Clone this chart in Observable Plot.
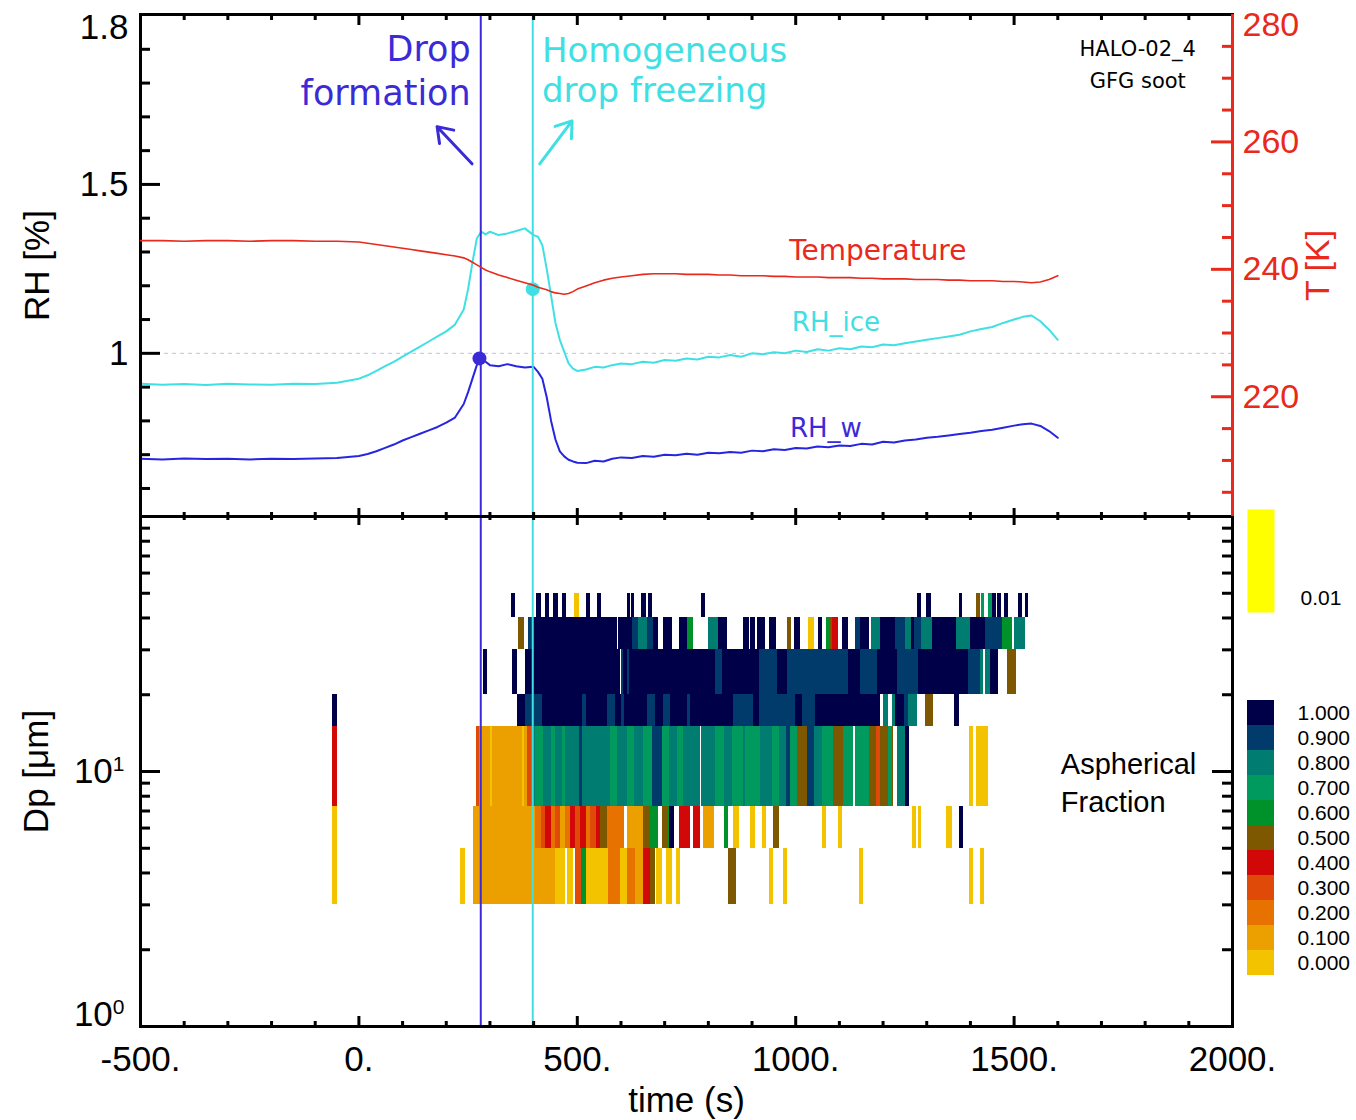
<!DOCTYPE html>
<html><head><meta charset="utf-8">
<script src="https://cdn.jsdelivr.net/npm/d3@7"></script>
<script src="https://cdn.jsdelivr.net/npm/@observablehq/plot@0.6"></script>
<style>
body{margin:0;background:#fff;}
#chart{position:relative;width:1356px;height:1120px;background:#fff;overflow:hidden;}
#chart svg{position:absolute;}
</style></head><body><div id="chart"></div>
<script>
// ---------------- DATA ----------------
const timeDomain = [-500, 2000];
const rhDomain = [0.517, 2.003];
const tempDomain = [201.2, 280];
const dpDomain = [1, 100];

const xTickValues = [-500, 0, 500, 1000, 1500, 2000];
const xTickLabels = ["-500.", "0.", "500.", "1000.", "1500.", "2000."];
const rhTickValues = [1, 1.5, 2.0];
const rhTickLabels = ["1", "1.5", "1.8"];
const tempTickValues = [220, 240, 260, 280];
const tempTickLabels = ["220", "240", "260", "280"];
const dpTickValues = [1, 10];
const dpTickLabels = ["10^0", "10^1"];

const timeRH = [
  -500,-450,-400,-350,-300,-250,-200,-150,-100,-50,
  0,20,40,60,80,100,120,140,160,180,
  200,220,240,250,260,270,280,290,300,320,
  340,360,380,400,410,420,430,440,450,460,
  470,480,490,500,520,540,560,580,600,625,
  650,675,700,725,750,775,800,825,850,875,
  900,925,950,975,1000,1025,1050,1075,1100,1125,
  1150,1175,1200,1225,1250,1275,1300,1325,1350,1375,
  1400,1425,1450,1475,1500,1520,1540,1560,1580,1600];
const rhIce = [
  0.910,0.907,0.909,0.906,0.910,0.908,0.907,0.910,0.909,0.913,
  0.925,0.935,0.948,0.962,0.975,0.990,1.005,1.020,1.035,1.050,
  1.065,1.085,1.130,1.190,1.270,1.340,1.360,1.352,1.360,1.350,
  1.355,1.362,1.370,1.350,1.345,1.320,1.250,1.170,1.090,1.040,
  1.005,0.970,0.955,0.948,0.952,0.960,0.958,0.965,0.970,0.968,
  0.975,0.972,0.980,0.978,0.985,0.982,0.990,0.988,0.995,0.990,
  1.000,0.997,1.003,1.000,1.008,1.004,1.012,1.008,1.015,1.012,
  1.020,1.018,1.026,1.024,1.030,1.035,1.040,1.045,1.050,1.055,
  1.065,1.072,1.078,1.090,1.100,1.108,1.112,1.095,1.070,1.040];
const rhW = [
  0.688,0.686,0.689,0.687,0.688,0.686,0.688,0.687,0.689,0.690,
  0.696,0.702,0.710,0.720,0.730,0.742,0.752,0.762,0.772,0.782,
  0.795,0.810,0.850,0.885,0.925,0.965,0.985,0.975,0.965,0.962,
  0.968,0.962,0.958,0.960,0.945,0.925,0.870,0.800,0.745,0.710,
  0.695,0.685,0.680,0.676,0.675,0.682,0.680,0.688,0.692,0.690,
  0.696,0.694,0.700,0.698,0.703,0.700,0.706,0.704,0.708,0.706,
  0.712,0.710,0.716,0.714,0.720,0.718,0.724,0.722,0.727,0.726,
  0.732,0.730,0.738,0.736,0.742,0.745,0.750,0.753,0.757,0.761,
  0.765,0.770,0.774,0.780,0.786,0.790,0.792,0.785,0.770,0.750];
const tempK = [
  244.5,244.5,244.4,244.5,244.5,244.4,244.5,244.5,244.4,244.4,
  244.3,244.1,243.9,243.7,243.5,243.3,243.1,242.9,242.7,242.5,
  242.3,242.1,241.8,241.5,241.1,240.7,240.3,239.9,239.6,239.1,
  238.7,238.3,237.9,237.5,237.2,237.0,236.8,236.5,236.3,236.2,
  236.1,236.2,236.5,236.9,237.4,237.9,238.3,238.6,238.8,239.0,
  239.2,239.3,239.3,239.3,239.2,239.2,239.2,239.1,239.1,239.0,
  239.0,239.0,238.9,238.9,238.8,238.8,238.8,238.7,238.7,238.7,
  238.6,238.6,238.5,238.5,238.5,238.4,238.4,238.4,238.3,238.3,
  238.2,238.2,238.2,238.1,238.1,238.0,237.9,238.0,238.4,239.0];

const eventTimes = [279, 398];           // drop formation, homogeneous freezing
const markerTimes = [276, 398];
const markerRH = [0.985, 1.19];

// Aspherical fraction per Dp bin: [tStart, tEnd, fraction]
const dpBinEdges = [3, 5, 7.3, 15, 20, 30, 40, 50];
const seg3to5 = [[-61,-50,0],[233,243,0],[263,451,0.1],[451,474,0],[478,492,0],[497,510,0.3],[510,520,0.6],[522,536,0],[538,572,0],[572,600,0.2],[600,616,0],[616,634,0.2],[634,652,0.1],[652,668,0.4],[668,680,0.5],[682,696,0],[705,717,0],[728,737,0],[847,865,0.5],[941,950,0],[973,982,0],[1147,1156,0],[1397,1408,0],[1424,1433,0]];
const seg5to7 = [[-61,-50,0],[263,405,0.1],[405,417,0.2],[417,428,0.3],[428,440,0.4],[440,451,0.2],[451,462,0.3],[462,474,0.1],[474,485,0.2],[485,497,0.4],[497,508,0.3],[508,520,0.4],[520,531,0.2],[531,543,0.3],[543,554,0.4],[554,570,0.5],[570,607,0.2],[616,652,0.1],[652,668,0.5],[668,685,0.6],[696,707,0.5],[707,712,0.6],[712,723,1],[733,760,0.4],[767,781,0.4],[790,815,0.1],[836,847,0.6],[858,872,0],[897,907,0],[925,934,0],[950,964,0.5],[1062,1071,0],[1099,1108,0],[1268,1277,0],[1280,1289,0],[1346,1358,0],[1376,1385,1]];
const seg7to15 = [[-61,-50,0.4],[270,275,0.3],[275,302,0.1],[302,306,0],[306,375,0.1],[375,378,0],[378,385,0.1],[385,398,0.3],[398,405,0.8],[405,423,0.7],[423,440,0.8],[440,451,0.7],[451,467,0.8],[467,474,0.7],[474,506,0.8],[506,513,0.9],[513,577,0.8],[577,593,0.7],[593,616,0.8],[616,630,0.7],[630,652,0.8],[652,673,0.7],[673,696,0.9],[696,710,0.7],[710,730,0.8],[730,744,0.7],[744,782,0.8],[784,817,0.8],[817,836,0.7],[836,856,0.8],[856,881,0.7],[881,886,0.8],[886,920,0.7],[920,948,0.8],[948,962,0.7],[962,978,0.8],[978,989,0.9],[989,1005,0.7],[1005,1028,0.5],[1028,1042,0.9],[1042,1062,0.8],[1062,1087,0.7],[1087,1110,0.5],[1110,1132,0.7],[1136,1168,0.7],[1168,1184,0.5],[1184,1195,0.3],[1195,1213,0.5],[1213,1222,0.7],[1222,1225,0.5],[1234,1252,0.8],[1252,1261,1],[1397,1408,0],[1413,1429,0],[1431,1442,0]];
const seg15to20 = [[-61,-50,1],[362,382,1],[382,421,0.9],[421,513,1],[513,522,0.9],[522,570,1],[570,588,0.9],[588,602,1],[602,607,0.9],[607,661,1],[661,680,0.9],[680,698,1],[698,714,0.9],[714,753,1],[753,760,0.9],[760,858,1],[858,904,0.9],[904,916,1],[916,1000,0.9],[1000,1016,1],[1016,1046,0.9],[1046,1195,1],[1202,1213,0.8],[1222,1229,0.8],[1229,1248,1],[1248,1259,0.9],[1259,1278,0.8],[1298,1316,0.5],[1364,1374,1]];
const seg20to30 = [[286,295,1],[352,364,1],[382,600,1],[601,606,0.9],[606,614,1],[614,619,0.9],[619,817,1],[817,833,0.9],[833,916,1],[916,959,0.9],[959,982,1],[982,1122,0.9],[1122,1149,1],[1149,1188,0.9],[1188,1234,1],[1234,1280,0.9],[1280,1396,1],[1396,1424,0.9],[1424,1429,0.8],[1435,1447,0.8],[1447,1465,1],[1486,1506,0.5]];
const seg30to40 = [[366,380,0.5],[389,398,0.9],[398,593,1],[595,627,1],[627,639,0.9],[639,661,0.8],[661,675,0.9],[675,687,1],[698,719,1],[733,753,1],[753,765,0.6],[801,824,0.8],[824,845,1],[881,895,1],[897,909,1],[913,932,1],[939,955,1],[982,991,0.5],[998,1010,1],[1030,1042,0],[1053,1062,1],[1071,1078,0.6],[1078,1085,0.5],[1085,1097,0.4],[1108,1120,1],[1138,1149,0.9],[1149,1168,1],[1174,1195,0.8],[1195,1229,1],[1229,1252,0.9],[1252,1264,0.8],[1264,1271,1],[1271,1287,0.9],[1287,1314,0.8],[1314,1367,1],[1367,1401,0.8],[1401,1435,1],[1435,1474,0.9],[1474,1497,0.6],[1500,1525,0.8]];
const seg40to50 = [[350,359,1],[407,419,1],[428,437,1],[446,456,1],[467,476,1],[494,504,0],[522,531,1],[547,556,1],[614,622,1],[624,632,1],[648,659,1],[664,673,1],[785,794,1],[1278,1287,1],[1300,1310,1],[1374,1383,1],[1413,1422,0.5],[1426,1433,0.7],[1442,1451,0.7],[1451,1460,1],[1462,1471,1],[1477,1488,1],[1511,1520,1],[1525,1534,1]];

const fracLevels = [0, 0.1, 0.2, 0.3, 0.4, 0.5, 0.6, 0.7, 0.8, 0.9, 1];
const fracColors = ["#f3c300","#eca000","#e77200","#df4a08","#d20808","#7d5800","#00922a","#00995e","#007c70","#003b6c","#000048"];
const belowLabel = "0.01";

// ---------------- BUILD ----------------
(function () {
const W = 1356, H = 1120;
const mL = 140, mR = 124, yTop = 14, yMid = 516, yBot = 1026;
const plotW = W - mL - mR;
const topH = yMid - yTop, botH = yBot - yMid;
const FONT = "'Liberation Sans', Arial, Helvetica, sans-serif";
const DJ = "'DejaVu Sans', Verdana, sans-serif";
const RED = "#e8291c", BLUE = "#3b2bd6", CYAN = "#3fe0e4";
const plotStyle = {background: "transparent", overflow: "visible", fontFamily: FONT};

const rhTable = timeRH.map((t, i) => ({t, ice: rhIce[i], w: rhW[i], T: tempK[i]}));
const markers = markerTimes.map((t, i) => ({t, rh: markerRH[i], c: i === 0 ? BLUE : CYAN}));
const binSegments = [seg3to5, seg5to7, seg7to15, seg15to20, seg20to30, seg30to40, seg40to50];
const cells = [];
binSegments.forEach((segs, i) => segs.forEach(([t0, t1, v]) =>
  cells.push({t0, t1, lo: dpBinEdges[i], hi: dpBinEdges[i + 1], v})));

const xMajor = [0, 500, 1000, 1500];
const xMinor = d3.range(-400, 2000, 100).filter(d => d % 500 !== 0);
const xLabel = d => xTickLabels[xTickValues.indexOf(d)];

function xTicks(values, len, side, pH, stroke = "black") {
  return Plot.tickX(values, {x: d => d, stroke, strokeWidth: 3,
    [side === "bottom" ? "insetTop" : "insetBottom"]: pH - len});
}
function yTicks(values, len, side, stroke = "black") {
  return Plot.tickY(values, {y: d => d, stroke, strokeWidth: 3,
    [side === "left" ? "insetRight" : "insetLeft"]: plotW - len});
}
function place(svg, left, topPx) {
  svg.style.left = left + "px"; svg.style.top = topPx + "px";
  document.getElementById("chart").appendChild(svg);
}

// ---- bottom panel: aspherical fraction ----
const logMinor = [2,3,4,5,6,7,8,9,20,30,40,50,60,70,80,90];
const bottomPanel = Plot.plot({
  width: W, height: H, marginLeft: mL, marginRight: mR, marginTop: yMid, marginBottom: H - yBot,
  style: {...plotStyle, background: "white"},
  x: {domain: timeDomain},
  y: {type: "log", domain: dpDomain},
  color: {type: "ordinal", domain: fracLevels, range: fracColors},
  marks: [
    Plot.rect(cells, {x1: "t0", x2: "t1", y1: "lo", y2: "hi", fill: "v", shapeRendering: "crispEdges"}),
    Plot.ruleX([eventTimes[0]], {stroke: BLUE, strokeWidth: 2}),
    Plot.ruleX([eventTimes[1]], {stroke: CYAN, strokeWidth: 2}),
    xTicks(xMinor, 5, "bottom", botH), xTicks(xMajor, 10, "bottom", botH),
    xTicks(xMinor, 4, "top", botH), xTicks(xMajor, 9, "top", botH),
    yTicks(logMinor, 10, "left"), yTicks([10], 20, "left"),
    yTicks(logMinor, 10, "right"), yTicks([10], 20, "right"),
    Plot.frame({stroke: "black", strokeWidth: 3}),
    Plot.axisX({ticks: xTickValues, tickFormat: xLabel, tickSize: 0, tickPadding: 20, fontSize: 35, label: null}),
    Plot.axisY({ticks: [dpTickValues[1]], tickFormat: d => dpTickLabels[dpTickValues.indexOf(d)], tickSize: 0, tickPadding: 16, fontSize: 35, label: null}),
    Plot.axisY({ticks: [dpTickValues[0]], tickFormat: d => dpTickLabels[dpTickValues.indexOf(d)], tickSize: 0, tickPadding: 16, fontSize: 35, dy: -12, label: null}),
    Plot.text(["Dp [μm]"], {frameAnchor: "left", dx: -104, rotate: -90, fontSize: 35, textAnchor: "middle", lineAnchor: "middle"}),
    Plot.text(["time (s)"], {frameAnchor: "bottom", dy: 74, fontSize: 35, textAnchor: "middle", lineAnchor: "middle"}),
    Plot.text(["Aspherical\nFraction"], {x: 1607, y: 9.17, textAnchor: "start", lineAnchor: "middle", fontSize: 29, lineHeight: 1.31, fill: "black"})
  ]
});
d3.select(bottomPanel).selectAll("text").each(function () {
  const m = /^10\^(\d+)$/.exec(this.textContent);
  if (!m) return;
  const s = d3.select(this); s.text("");
  s.append("tspan").text("10");
  s.append("tspan").attr("font-size", 21).attr("dy", "-0.55em").text(m[1]);
});
place(bottomPanel, 0, 0);

// ---- top panel: relative humidity ----
const rhMinor = d3.range(6, 20).map(d => d / 10).filter(d => d !== 1 && d !== 1.5);
const rhLabel = d => rhTickLabels[rhTickValues.indexOf(d)];
const rhPanel = Plot.plot({
  width: W, height: H, marginLeft: mL, marginRight: mR, marginTop: yTop, marginBottom: H - yMid,
  style: plotStyle,
  x: {domain: timeDomain, axis: null},
  y: {domain: rhDomain},
  marks: [
    Plot.ruleY([1], {stroke: "#bcc4da", strokeWidth: 1, strokeDasharray: "4,4"}),
    Plot.line(rhTable, {x: "t", y: "ice", stroke: CYAN, strokeWidth: 2}),
    Plot.line(rhTable, {x: "t", y: "w", stroke: "#2626e0", strokeWidth: 2}),
    Plot.ruleX([eventTimes[0]], {stroke: BLUE, strokeWidth: 2}),
    Plot.ruleX([eventTimes[1]], {stroke: CYAN, strokeWidth: 2}),
    Plot.dot(markers, {x: "t", y: "rh", fill: "c", r: 7, stroke: "none"}),
    Plot.arrow([{a: 259, b: 1.561, c: 179, d: 1.671}], {x1: "a", y1: "b", x2: "c", y2: "d", stroke: BLUE, strokeWidth: 3, headLength: 13, headAngle: 70}),
    Plot.arrow([{a: 414, b: 1.561, c: 488, d: 1.688}], {x1: "a", y1: "b", x2: "c", y2: "d", stroke: CYAN, strokeWidth: 3, headLength: 13, headAngle: 70}),
    Plot.text(["Drop\nformation"], {x: 256, y: 1.841, textAnchor: "end", lineAnchor: "middle", fontSize: 35, lineHeight: 1.24, fill: BLUE, fontFamily: DJ}),
    Plot.text(["Homogeneous\ndrop freezing"], {x: 419, y: 1.842, textAnchor: "start", lineAnchor: "middle", fontSize: 34, lineHeight: 1.18, fill: CYAN, fontFamily: DJ}),
    Plot.text(["RH_ice"], {x: 1092, y: 1.091, fontSize: 26, fill: CYAN, fontFamily: DJ}),
    Plot.text(["RH_w"], {x: 1069, y: 0.777, fontSize: 26, fill: BLUE, fontFamily: DJ}),
    Plot.text(["HALO-02_4\nGFG soot"], {x: 1783, y: 1.863, fontSize: 21, lineHeight: 1.52, fill: "black", fontFamily: DJ}),
    xTicks(xMinor, 4, "bottom", topH), xTicks(xMajor, 8, "bottom", topH),
    xTicks(xMinor, 6, "top", topH), xTicks(xMajor, 11, "top", topH),
    yTicks(rhMinor, 10, "left"), yTicks([1, 1.5], 20, "left"),
    Plot.frame({stroke: "black", strokeWidth: 3}),
    Plot.axisY({ticks: [1, 1.5], tickFormat: rhLabel, tickSize: 0, tickPadding: 12, fontSize: 35, label: null}),
    Plot.axisY({ticks: [2.0], tickFormat: rhLabel, tickSize: 0, tickPadding: 12, fontSize: 35, dy: 12, label: null}),
    Plot.text(["RH [%]"], {frameAnchor: "left", dx: -103, rotate: -90, fontSize: 35, textAnchor: "middle", lineAnchor: "middle"})
  ]
});
place(rhPanel, 0, 0);

// ---- top panel: temperature (right axis) ----
const tMinor = d3.range(205, 280, 5).filter(d => d % 20 !== 0);
const tLabel = d => tempTickLabels[tempTickValues.indexOf(d)];
const tempPanel = Plot.plot({
  width: W, height: H, marginLeft: mL, marginRight: mR, marginTop: yTop, marginBottom: H - yMid,
  style: plotStyle,
  x: {domain: timeDomain, axis: null},
  y: {domain: tempDomain},
  marks: [
    Plot.line(rhTable, {x: "t", y: "T", stroke: RED, strokeWidth: 1.6}),
    Plot.text(["Temperature"], {x: 1188, y: 242.93, fontSize: 28, fill: RED, fontFamily: DJ}),
    Plot.ruleX([timeDomain[1]], {stroke: RED, strokeWidth: 3}),
    yTicks(tMinor, 10, "right", RED), yTicks([220, 240, 260], 21, "right", RED),
    Plot.axisY({anchor: "right", ticks: [220, 240, 260], tickFormat: tLabel, tickSize: 0, tickPadding: 10, fontSize: 34, fill: RED, label: null}),
    Plot.axisY({anchor: "right", ticks: [280], tickFormat: tLabel, tickSize: 0, tickPadding: 10, fontSize: 34, fill: RED, dy: 11, label: null}),
    Plot.text(["T [K]"], {frameAnchor: "right", dx: 86, rotate: -90, fontSize: 34, fill: RED, textAnchor: "middle", lineAnchor: "middle"})
  ]
});
place(tempPanel, 0, 0);

// ---- colour legend ----
const legendPanel = Plot.plot({
  width: 110, height: 276, marginTop: 0, marginBottom: 0, marginLeft: 0, marginRight: 83,
  style: plotStyle,
  x: {axis: null},
  y: {type: "band", domain: fracLevels.slice().reverse(), axis: null, padding: 0},
  color: {type: "ordinal", domain: fracLevels, range: fracColors},
  marks: [
    Plot.cell(fracLevels, {y: d => d, fill: d => d}),
    Plot.text(fracLevels, {y: d => d, text: d => d.toFixed(3), frameAnchor: "left", dx: 50, textAnchor: "start", fontSize: 21, fill: "black"})
  ]
});
place(legendPanel, 1247, 699);

const belowPanel = Plot.plot({
  width: 110, height: 103, marginTop: 0, marginBottom: 0, marginLeft: 0, marginRight: 83,
  style: plotStyle,
  x: {axis: null}, y: {axis: null},
  marks: [
    Plot.frame({fill: "#ffff00", stroke: "none"}),
    Plot.text([belowLabel], {frameAnchor: "bottom-left", dx: 53, dy: -14, textAnchor: "start", lineAnchor: "middle", fontSize: 21, fill: "black"})
  ]
});
place(belowPanel, 1247, 509);
})();
</script></body></html>
